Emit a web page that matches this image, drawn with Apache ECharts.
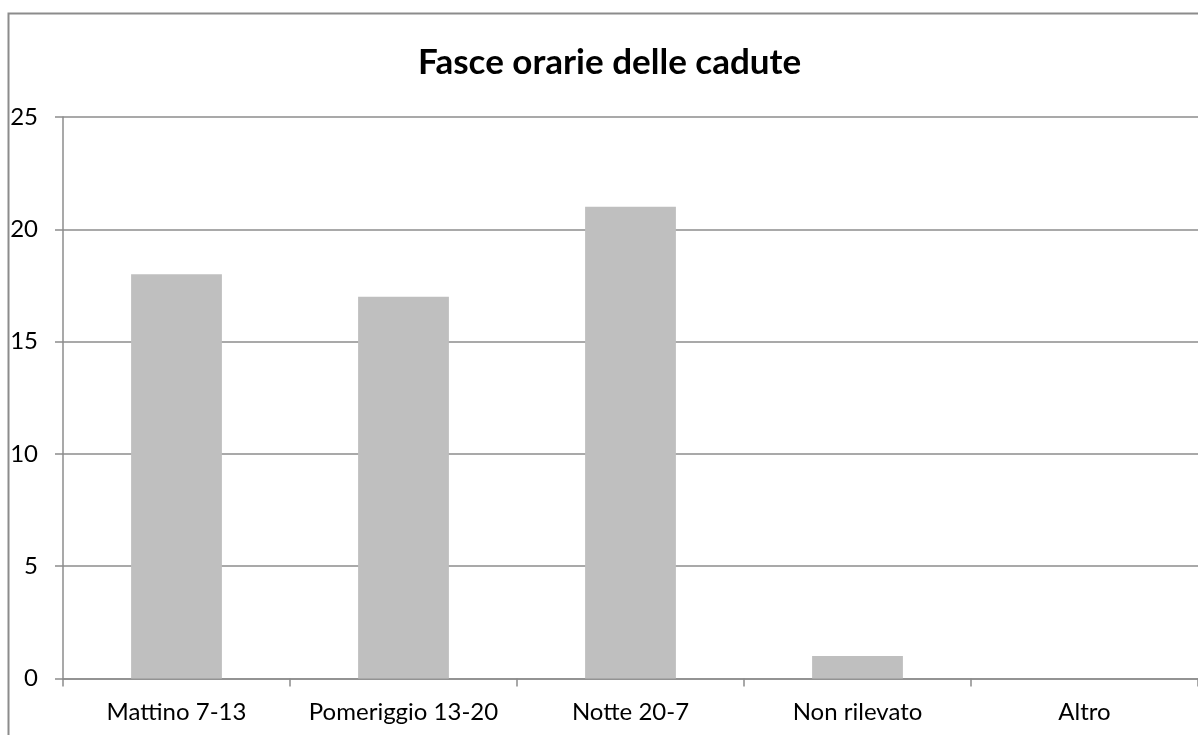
<!DOCTYPE html>
<html><head><meta charset="utf-8">
<script src="https://cdn.jsdelivr.net/npm/echarts@6/dist/echarts.min.js"></script>
<style>html,body{margin:0;padding:0;background:#fff}#c{width:1198px;height:735px}</style>
</head><body><div id="c"></div>
<script>
const title = "Fasce orarie delle cadute";
const categories = ["Mattino 7-13", "Pomeriggio 13-20", "Notte 20-7", "Non rilevato", "Altro"];
const values = [18, 17, 21, 1, 0];
const yTicks = { min: 0, max: 25, interval: 5 };

const chart = echarts.init(document.getElementById('c'), null, { renderer: 'canvas' });
const font = "Lato, 'Open Sans', sans-serif";
chart.setOption({
  animation: false,
  backgroundColor: '#fff',
  title: {
    text: title, left: 413, top: 40,
    textStyle: { fontFamily: font, fontWeight: 'bold', fontSize: 35, color: '#000' }
  },
  graphic: [{
    type: 'rect', silent: true,
    shape: { x: 8.5, y: 13.5, width: 1300, height: 900 },
    style: { fill: 'none', stroke: '#8c8c8c', lineWidth: 2 }
  }],
  grid: { left: 63, right: -1, top: 117, bottom: 56.5, containLabel: false },
  xAxis: {
    type: 'category', data: categories,
    axisLine: { show: true, lineStyle: { color: '#8c8c8c', width: 1.5 } },
    axisTick: { show: true, length: 8, alignWithLabel: false, lineStyle: { color: '#8c8c8c', width: 1.5 } },
    axisLabel: { margin: 22, fontFamily: font, fontSize: 24, color: '#000', interval: 0 },
    splitLine: { show: false }
  },
  yAxis: {
    type: 'value', min: yTicks.min, max: yTicks.max, interval: yTicks.interval,
    axisLine: { show: true, lineStyle: { color: '#8c8c8c', width: 1.5 } },
    axisTick: { show: true, length: 8, lineStyle: { color: '#8c8c8c', width: 1.5 } },
    axisLabel: { margin: 25, fontFamily: font, fontSize: 24, color: '#000' },
    splitLine: { show: true, lineStyle: { color: '#8c8c8c', width: 1.5 } }
  },
  series: [{
    type: 'bar', data: values, barWidth: '40%',
    itemStyle: { color: '#bfbfbf' }
  }]
});
</script></body></html>
